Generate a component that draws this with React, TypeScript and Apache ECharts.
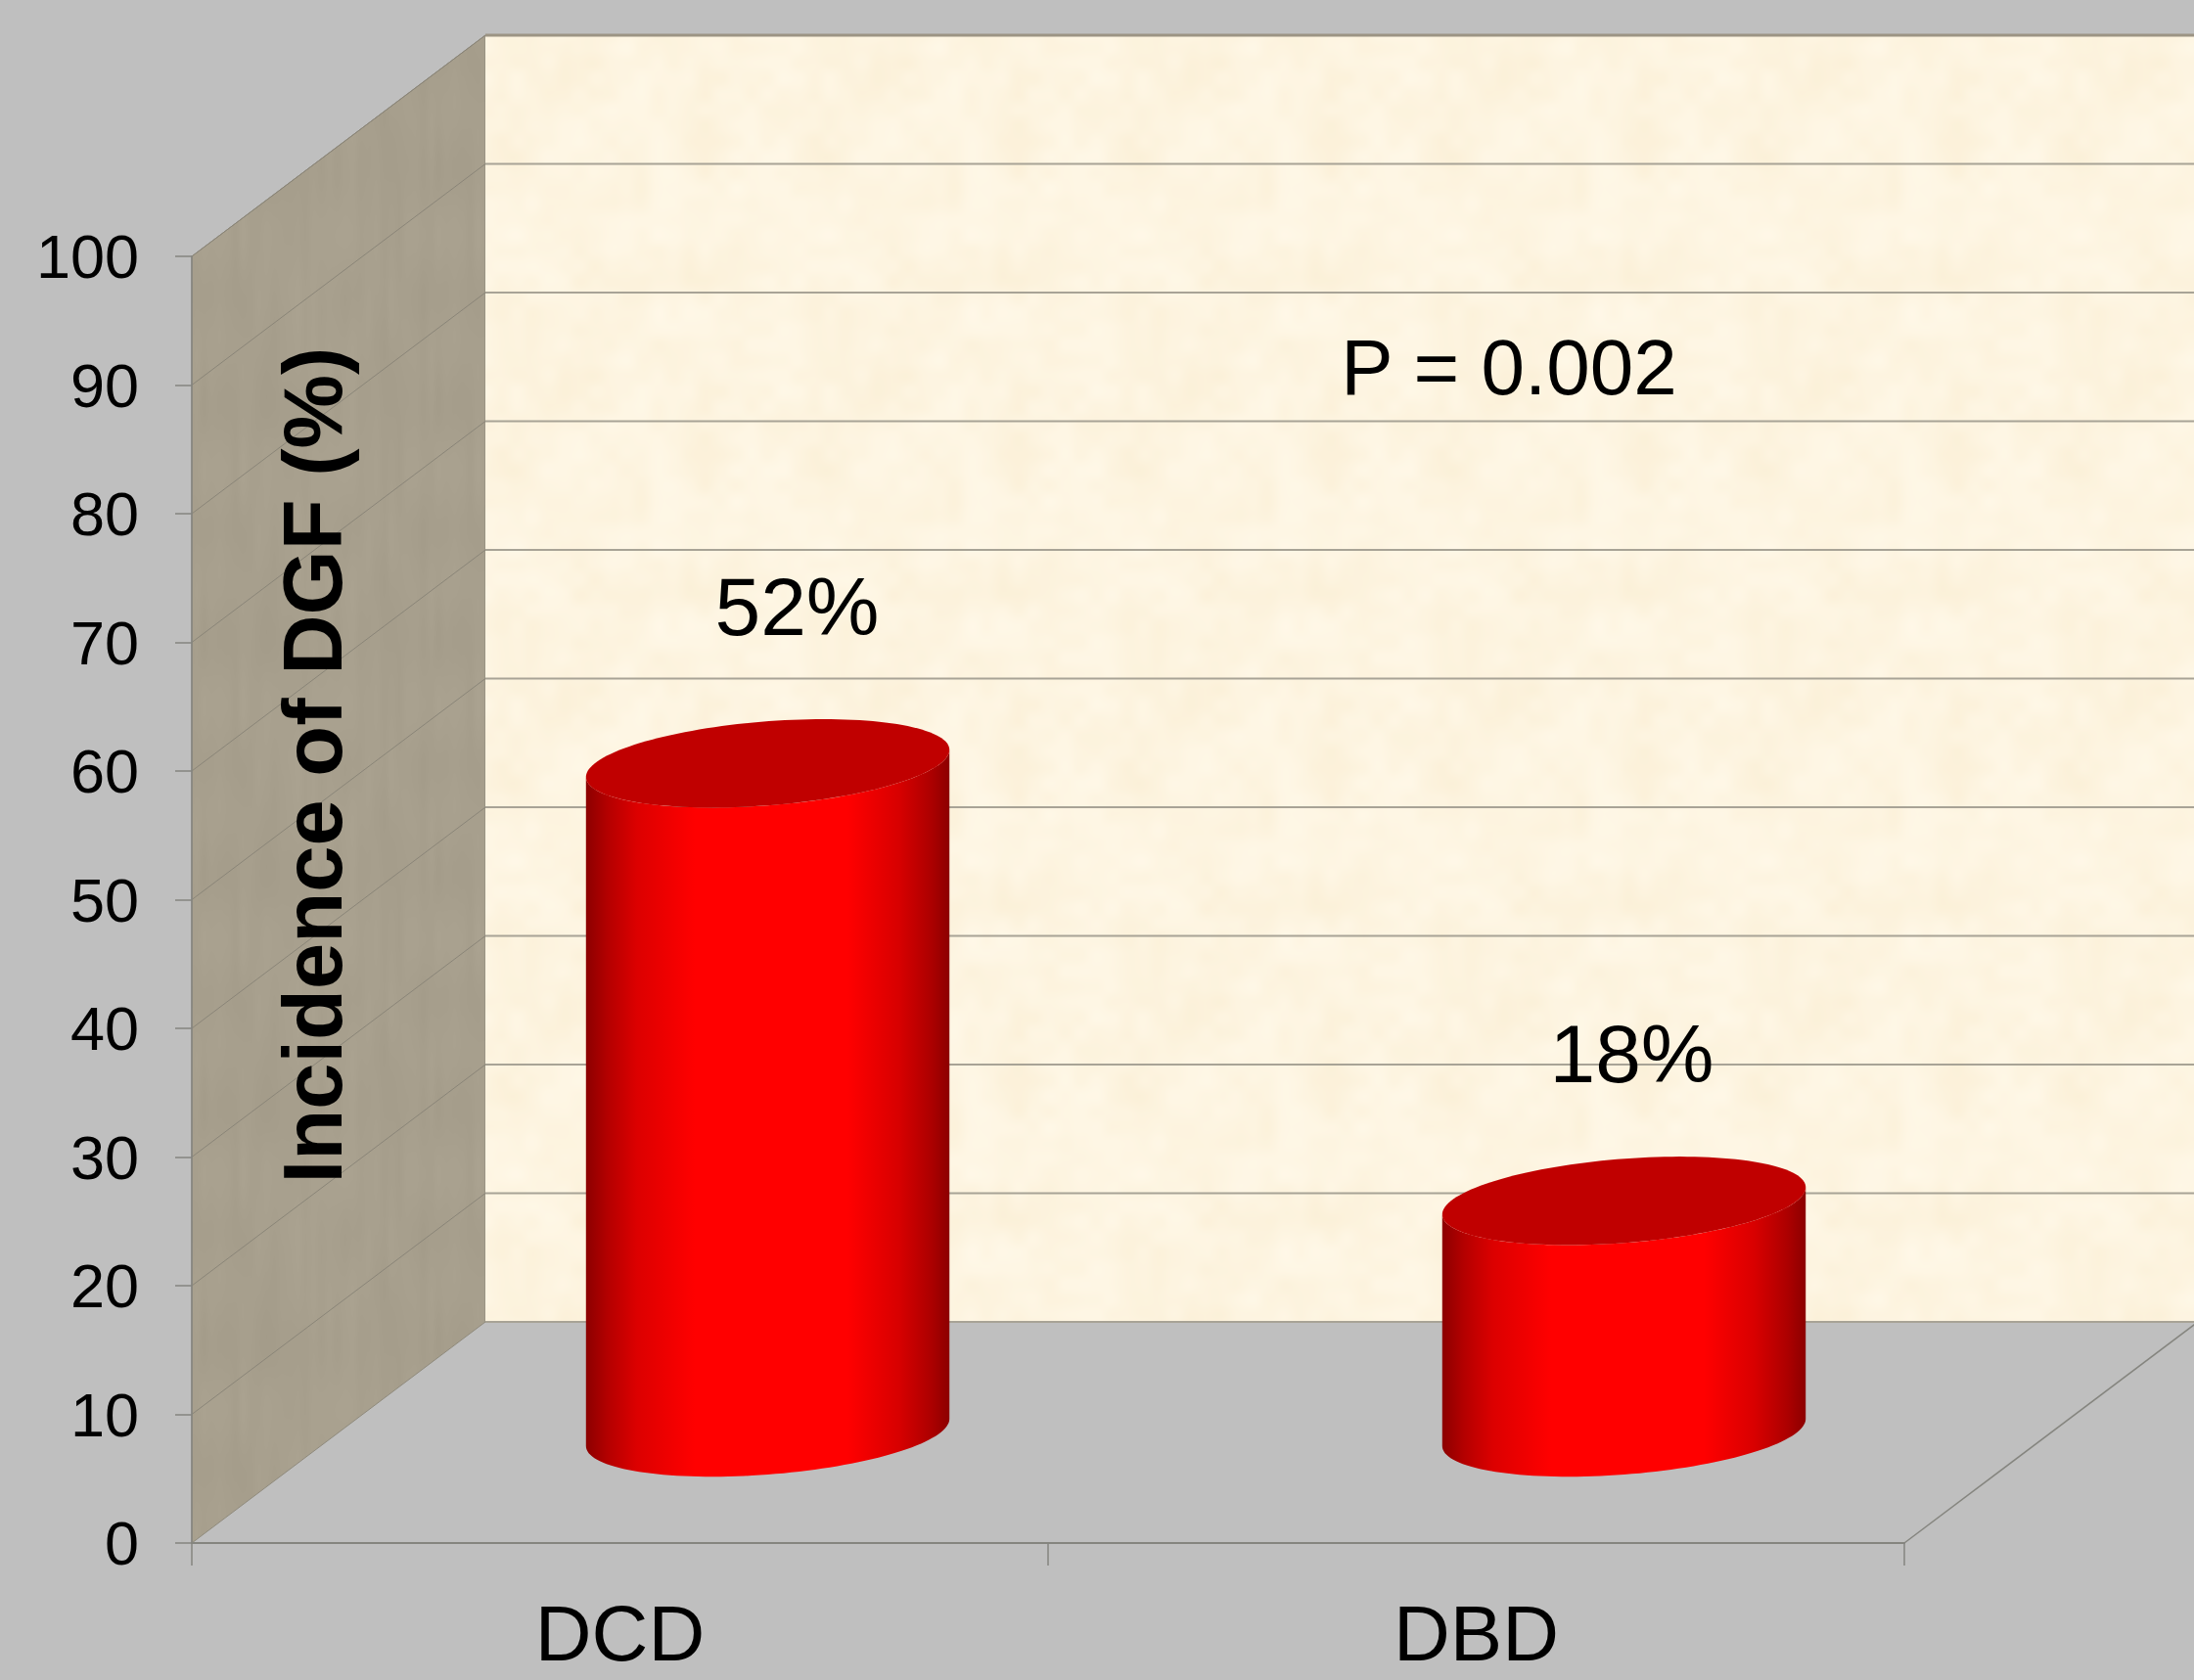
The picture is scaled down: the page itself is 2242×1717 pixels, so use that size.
import React, { useEffect, useRef } from "react";
import * as echarts from "echarts";

// Chart content
const categories = ["DCD", "DBD"];
const incidence = [52, 18];
const yAxisTitle = "Incidence of DGF (%)";
const pValueText = "P = 0.002";
const yTicks = [0, 10, 20, 30, 40, 50, 60, 70, 80, 90, 100];

// Oblique projection of the 3D box: how far the back wall sits from the front plane
const DEPTH_X = 300;
const DEPTH_Y = -226;
const FONT = '"Liberation Sans", Arial, sans-serif';
const labelShift = [
  [30, -160],
  [8, -150],
];

function hash(x: number, y: number, seed: number) {
  let h = (x * 374761393 + y * 668265263 + seed * 1274126177) | 0;
  h = Math.imul(h ^ (h >>> 13), 1274126177);
  return ((h ^ (h >>> 16)) >>> 0) / 4294967295;
}

// Tileable value noise used for the wall textures
function noise(x: number, y: number, cw: number, ch: number, w: number, h: number, seed: number) {
  const nx = Math.round(w / cw);
  const ny = Math.round(h / ch);
  const gx = x / cw;
  const gy = y / ch;
  const x0 = Math.floor(gx);
  const y0 = Math.floor(gy);
  const s = (t: number) => t * t * (3 - 2 * t);
  const fx = s(gx - x0);
  const fy = s(gy - y0);
  const at = (i: number, j: number) => hash(((i % nx) + nx) % nx, ((j % ny) + ny) % ny, seed);
  const a = at(x0, y0) * (1 - fx) + at(x0 + 1, y0) * fx;
  const b = at(x0, y0 + 1) * (1 - fx) + at(x0 + 1, y0 + 1) * fx;
  return a * (1 - fy) + b * fy;
}

function makeTile(
  w: number,
  h: number,
  shade: (x: number, y: number) => [number, number, number]
) {
  const canvas = document.createElement("canvas");
  canvas.width = w;
  canvas.height = h;
  const ctx = canvas.getContext("2d")!;
  const img = ctx.createImageData(w, h);
  for (let y = 0; y < h; y++) {
    for (let x = 0; x < w; x++) {
      const [r, g, b] = shade(x, y);
      const o = (y * w + x) * 4;
      img.data[o] = r;
      img.data[o + 1] = g;
      img.data[o + 2] = b;
      img.data[o + 3] = 255;
    }
  }
  ctx.putImageData(img, 0, 0);
  return canvas;
}

function parchmentTile() {
  const W = 320;
  const canvas = makeTile(W, W, (x, y) => {
    const n =
      (noise(x, y, 40, 40, W, W, 1) - 0.5) * 0.8 +
      (noise(x, y, 16, 16, W, W, 2) - 0.5) * 0.6;
    return [253 + n * 3, 244 + n * 6, 224 + n * 12];
  });
  return { image: canvas, repeat: "repeat", imageWidth: W, imageHeight: W };
}

function sideWallTile() {
  const W = 240;
  const canvas = makeTile(W, W, (x, y) => {
    const n =
      (noise(x, y, 8, 80, W, W, 3) - 0.5) * 0.7 +
      (noise(x, y, 30, 60, W, W, 4) - 0.5) * 0.5;
    return [167 + n * 7, 159 + n * 7, 141 + n * 7];
  });
  return { image: canvas, repeat: "repeat", imageWidth: W, imageHeight: W };
}

function buildOption() {
  const parchment = parchmentTile();
  const sideWall = sideWallTile();

  // Walls, floor edge and gridlines of the 3D box, placed through the axes
  const renderWalls = (params: any, api: any) => {
    const width = api.getWidth();
    const [x0, yBase] = api.coord([0, 0]);
    const left = x0 - api.size([1, 0])[0] / 2;
    const yTop = api.coord([0, yTicks[yTicks.length - 1]])[1];
    const right = left + api.size([1, 0])[0] * categories.length;
    const children: any[] = [
      {
        type: "polygon",
        shape: {
          points: [
            [left, yBase],
            [left, yTop],
            [left + DEPTH_X, yTop + DEPTH_Y],
            [left + DEPTH_X, yBase + DEPTH_Y],
          ],
        },
        style: { fill: sideWall, stroke: "#8f8a7c", lineWidth: 1 },
      },
      {
        type: "polygon",
        shape: {
          points: [
            [left + DEPTH_X, yTop + DEPTH_Y],
            [width + 10, yTop + DEPTH_Y],
            [width + 10, yBase + DEPTH_Y],
            [left + DEPTH_X, yBase + DEPTH_Y],
          ],
        },
        style: { fill: parchment },
      },
      {
        type: "line",
        shape: { x1: right, y1: yBase, x2: right + DEPTH_X, y2: yBase + DEPTH_Y },
        style: { stroke: "#85857f", lineWidth: 1.5 },
      },
    ];
    yTicks.forEach((tick) => {
      const y = api.coord([0, tick])[1];
      const isBase = tick === 0;
      const isTop = tick === yTicks[yTicks.length - 1];
      if (!isBase) {
        children.push({
          type: "line",
          shape: { x1: left, y1: y, x2: left + DEPTH_X, y2: y + DEPTH_Y },
          style: { stroke: "#8a8578", lineWidth: 1 },
        });
      }
      children.push({
        type: "line",
        shape: { x1: left + DEPTH_X, y1: y + DEPTH_Y, x2: width + 10, y2: y + DEPTH_Y },
        style: { stroke: isTop ? "#9c9484" : "#a8a396", lineWidth: isTop ? 3 : 2 },
      });
    });
    return { type: "group", children };
  };

  // One cylinder: a shaded body and a darker top cap, standing mid-depth in the box
  const renderCylinder = (params: any, api: any) => {
    const idx = api.value(0);
    const value = api.value(1);
    const band = api.size([1, 0])[0];
    const base = api.coord([idx, 0]);
    const top = api.coord([idx, value]);
    const cx = base[0] + DEPTH_X / 2 + 1;
    const baseY = base[1] + DEPTH_Y / 2;
    const topY = top[1] + DEPTH_Y / 2;
    const rx = band * 0.202;
    const kx = DEPTH_X * 0.19;
    const ky = -DEPTH_Y * 0.2;
    const pt = (cy: number, t: number) => [
      cx + rx * Math.cos(t) + kx * Math.sin(t),
      cy - ky * Math.sin(t),
    ];
    const t0 = Math.atan2(kx, rx);
    const steps = 72;
    const body: number[][] = [];
    for (let i = 0; i <= steps; i++) body.push(pt(baseY, Math.PI + t0 + (Math.PI * i) / steps));
    for (let i = steps; i >= 0; i--) body.push(pt(topY, Math.PI + t0 + (Math.PI * i) / steps));
    const cap: number[][] = [];
    for (let i = 0; i < steps * 2; i++) cap.push(pt(topY, (Math.PI * i) / steps));
    const [sx, sy] = labelShift[idx];
    return {
      type: "group",
      children: [
        {
          type: "polygon",
          shape: { points: body },
          style: {
            fill: new echarts.graphic.LinearGradient(0, 0, 1, 0, [
              { offset: 0, color: "#8c0000" },
              { offset: 0.06, color: "#b40000" },
              { offset: 0.14, color: "#dc0000" },
              { offset: 0.3, color: "#ff0000" },
              { offset: 0.72, color: "#ff0000" },
              { offset: 0.86, color: "#d80000" },
              { offset: 0.95, color: "#ac0000" },
              { offset: 1, color: "#8c0000" },
            ]),
          },
        },
        { type: "polygon", shape: { points: cap }, style: { fill: "#c00000" } },
        {
          type: "text",
          style: {
            x: cx + sx,
            y: topY + sy,
            text: `${value}%`,
            font: `84px ${FONT}`,
            fill: "#000000",
            align: "center",
            verticalAlign: "middle",
          },
        },
      ],
    };
  };

  return {
    animation: false,
    backgroundColor: "#bfbfbf",
    grid: {
      left: 196,
      right: 296,
      top: 262,
      bottom: 140,
      containLabel: false,
      outerBoundsMode: "none",
    },
    xAxis: {
      type: "category",
      data: categories,
      z: 5,
      axisLine: { show: true, lineStyle: { color: "#85857f", width: 2 } },
      axisTick: { show: true, alignWithLabel: false, length: 23, lineStyle: { color: "#85857f", width: 1.5 } },
      axisLabel: { fontFamily: FONT, fontSize: 80, color: "#000000", margin: 52, interval: 0 },
      splitLine: { show: false },
    },
    yAxis: {
      type: "value",
      min: 0,
      max: 100,
      interval: 10,
      z: 5,
      axisLine: { show: true, lineStyle: { color: "#85857f", width: 1.5 } },
      axisTick: { show: true, length: 17, lineStyle: { color: "#85857f", width: 1.5 } },
      axisLabel: { fontFamily: FONT, fontSize: 63, color: "#000000", margin: 54 },
      splitLine: { show: false },
    },
    graphic: [
      {
        type: "text",
        z: 20,
        x: 319,
        y: 782,
        rotation: Math.PI / 2,
        style: {
          text: yAxisTitle,
          font: `bold 85px ${FONT}`,
          fill: "#000000",
          align: "center",
          verticalAlign: "middle",
        },
      },
      {
        type: "text",
        z: 20,
        x: 1542,
        y: 375,
        style: {
          text: pValueText,
          font: `80px ${FONT}`,
          fill: "#000000",
          align: "center",
          verticalAlign: "middle",
        },
      },
    ],
    series: [
      {
        type: "custom",
        name: "walls",
        z: 1,
        silent: true,
        coordinateSystem: "cartesian2d",
        renderItem: renderWalls,
        data: [[0, 0]],
      },
      {
        type: "custom",
        name: "Incidence of DGF",
        z: 6,
        silent: true,
        coordinateSystem: "cartesian2d",
        renderItem: renderCylinder,
        encode: { x: 0, y: 1 },
        data: incidence.map((v, i) => [i, v]),
      },
    ],
  };
}

export default function App() {
  const ref = useRef<HTMLDivElement>(null);
  useEffect(() => {
    const chart = echarts.init(ref.current!, null, { renderer: "svg" });
    chart.setOption(buildOption() as any);
    return () => chart.dispose();
  }, []);
  return (
    <div
      ref={ref}
      style={{ position: "absolute", left: 0, top: 0, width: 2242, height: 1717 }}
    />
  );
}
